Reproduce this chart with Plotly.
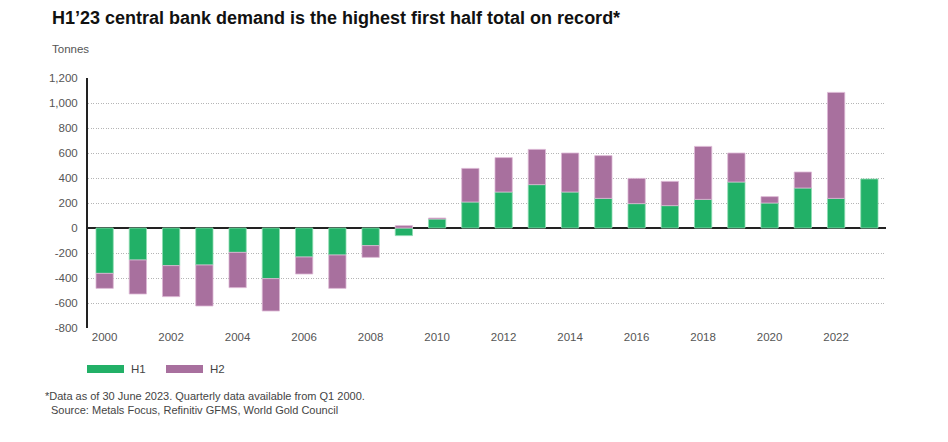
import plotly.graph_objects as go

# Central bank gold demand by half year (tonnes)
years = list(range(2000, 2024))
h1 = [-363, -256, -301, -296, -195, -405, -232, -216, -141, -61, 72, 208,
      288, 347, 288, 237, 195, 179, 229, 368, 200, 320, 237, 392]
h2 = [-120, -272, -248, -328, -282, -259, -136, -267, -94, 19, 8, 269,
      275, 282, 312, 342, 202, 194, 424, 232, 51, 128, 848, None]

y_ticks = [1200, 1000, 800, 600, 400, 200, 0, -200, -400, -600, -800]
y_labels = ["1,200", "1,000", "800", "600", "400", "200", "0",
            "-200", "-400", "-600", "-800"]

green = "#22B067"
purple = "#A8709E"

# page has an 8px body margin, so the figure is sized to fit inside the window
W, H = 940, 434
L, R, T, B = 80, 62, 70, 114

fig = go.Figure()
fig.add_trace(go.Bar(x=years, y=h1, name="H1", marker_color=green,
                     marker_line=dict(color="#8FDCB3", width=0.8)))
fig.add_trace(go.Bar(x=years, y=h2, name="H2", marker_color=purple,
                     marker_line=dict(color="#DDB9D6", width=0.8)))

fig.update_layout(
    barmode="relative",
    bargap=0.48,
    width=W, height=H,
    margin=dict(l=L, r=R, t=T, b=B),
    plot_bgcolor="white", paper_bgcolor="white",
    font=dict(family="Liberation Sans, Arial, sans-serif", size=11.5, color="#555555"),
    showlegend=False,
)

fig.update_xaxes(range=[1999.5, 2023.5], tick0=2000, dtick=2, showgrid=False,
                 ticks="", tickfont=dict(size=11.5, color="#555555"), showline=False,
                 zeroline=False)
fig.update_yaxes(range=[-800, 1200], tickvals=y_ticks, ticktext=y_labels,
                 showgrid=True, gridcolor="#B5B5B5", griddash="1px,1.5px", gridwidth=1,
                 zeroline=True, zerolinecolor="#222222", zerolinewidth=1.5,
                 showline=True, linecolor="#222222", linewidth=2,
                 ticks="", ticklabelstandoff=6,
                 tickfont=dict(size=11.5, color="#555555"))

# title, unit label and notes (positions in page pixels, converted below)
notes = [
    ("<b>H1’23 central bank demand is the highest first half total on record*</b>", 50, 18, 18, "#111111"),
    ("Tonnes", 50, 49, 11.5, "#555555"),
    ("*Data as of 30 June 2023. Quarterly data available from Q1 2000.", 43, 396, 11, "#444444"),
    ("Source: Metals Focus, Refinitiv GFMS, World Gold Council", 49, 410, 11, "#444444"),
    ("H1", 129, 369, 11.5, "#444444"),
    ("H2", 208, 369, 11.5, "#444444"),
]

pw = W - L - R
ph = H - T - B


def px_x(x):
    return (x - 8 - L) / pw


def px_y(y):
    return (H - (y - 8) - B) / ph


for text, x, y, size, col in notes:
    fig.add_annotation(text=text, x=px_x(x), y=px_y(y), xref="paper", yref="paper",
                       showarrow=False, xanchor="left", yanchor="middle",
                       font=dict(size=size, color=col))

# legend swatches
for x0, col in [(87, green), (166, purple)]:
    fig.add_shape(type="rect", xref="paper", yref="paper",
                  x0=px_x(x0), x1=px_x(x0 + 37), y0=px_y(373), y1=px_y(365),
                  fillcolor=col, line_width=0)

fig.write_html("out.html")
